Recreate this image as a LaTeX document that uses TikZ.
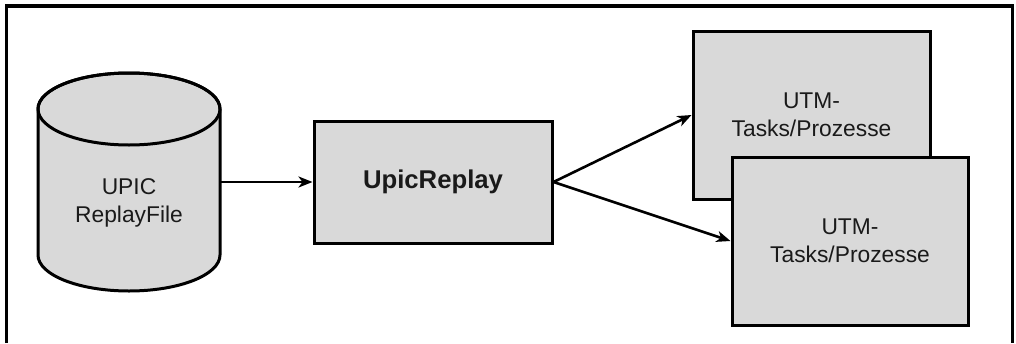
\documentclass[tikz,border=0pt]{standalone}
\usepackage{fontspec}
\setmainfont{Liberation Sans}
\usetikzlibrary{arrows.meta}
\definecolor{boxfill}{HTML}{D9D9D9}
\definecolor{txt}{HTML}{1A1A1A}
\tikzset{
  procbox/.style={draw=black, line width=3pt, fill=boxfill, inner sep=0pt, align=center, text=txt,
    font=\fontsize{22.8pt}{28pt}\selectfont},
  flow/.style={line width=2.6pt, -{Stealth[length=14pt,width=11pt,inset=4pt]}},
}
\begin{document}
\begin{tikzpicture}[x=1pt,y=-1pt]
\useasboundingbox (0,0) rectangle (1016,343);
% frame (open at the bottom)
\draw[line width=3.5pt] (6.5,343) -- (6.5,6) -- (1012.5,6) -- (1012.5,343);
% cylinder
\filldraw[fill=boxfill, draw=black, line width=3pt]
  (38,109) -- (38,255) arc[start angle=180, end angle=360, x radius=91pt, y radius=36pt]
  -- (220,109) arc[start angle=0, end angle=180, x radius=91pt, y radius=36pt] -- cycle;
\draw[line width=3pt] (129,109) ellipse[x radius=91pt, y radius=36pt];
\node[minimum width=182pt, minimum height=218pt, inner sep=0pt] (db) at (129,182) {};
\node[align=center, text=txt, font=\fontsize{22.8pt}{28pt}\selectfont] (dbtext) at (129,203) {UPIC\\ReplayFile};
% boxes
\node[procbox, minimum width=238pt, minimum height=122pt, font=\fontsize{25.7pt}{30pt}\selectfont\bfseries] (rep) at (433,182) {UpicReplay};
\node[procbox, minimum width=237pt, minimum height=168pt] (u1) at (811.5,115) {UTM-\\Tasks/Prozesse};
\node[procbox, minimum width=236pt, minimum height=168pt] (u2) at (850,241) {UTM-\\Tasks/Prozesse};
% connectors
\draw[flow] (db.east) -- (rep.west);
\draw[flow] (rep.east) -- (u1.west);
\draw[flow] (rep.east) -- (u2.west);
\end{tikzpicture}
\end{document}
